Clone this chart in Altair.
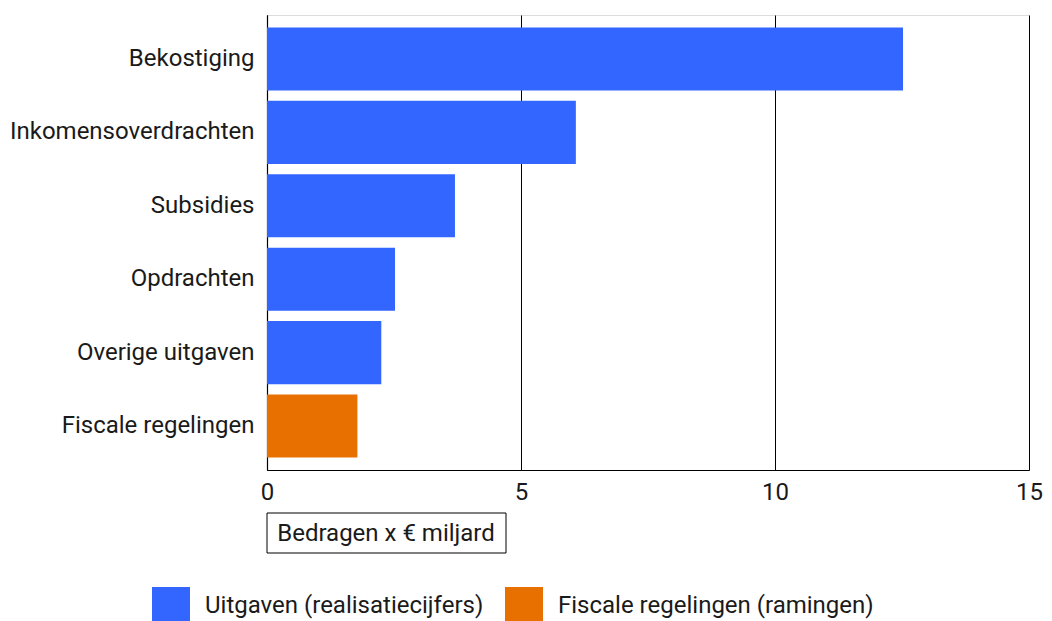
import altair as alt
import pandas as pd

categories = ["Bekostiging", "Inkomensoverdrachten", "Subsidies", "Opdrachten",
              "Overige uitgaven", "Fiscale regelingen"]
values = [12.52, 6.08, 3.70, 2.52, 2.25, 1.78]
series = ["Uitgaven (realisatiecijfers)"] * 5 + ["Fiscale regelingen (ramingen)"]
series_names = ["Uitgaven (realisatiecijfers)", "Fiscale regelingen (ramingen)"]
series_colors = ["#3366ff", "#e87000"]
x_ticks = [0, 5, 10, 15]
axis_title = "Bedragen x € miljard"

df = pd.DataFrame({"categorie": categories, "waarde": values, "reeks": series})
FONT = "Roboto"

bars = alt.Chart(df).mark_bar().encode(
    y=alt.Y("categorie:N", sort=categories,
            scale=alt.Scale(paddingInner=0.14, paddingOuter=0.17),
            axis=alt.Axis(title=None, ticks=False, labelFontSize=24, labelFont=FONT,
                          labelColor="#1a1a1a", labelPadding=13, domainColor="#000000",
                          domainWidth=1.2, labelLimit=400)),
    x=alt.X("waarde:Q", scale=alt.Scale(domain=[0, 15], nice=False),
            axis=alt.Axis(title=None, values=x_ticks, ticks=False, labelFontSize=24,
                          labelFont=FONT, labelColor="#1a1a1a", labelPadding=10,
                          grid=True, gridColor="#000000", gridWidth=1, gridOpacity=1,
                          domainColor="#000000", domainWidth=1.2, labelFlush=False)),
    color=alt.Color("reeks:N",
                    scale=alt.Scale(domain=series_names, range=series_colors),
                    legend=alt.Legend(title=None, orient="none", direction="horizontal",
                                      legendX=-115, legendY=572,
                                      symbolType="square", symbolSize=1444,
                                      symbolStrokeWidth=0, symbolOpacity=1,
                                      labelFontSize=24, labelFont=FONT,
                                      labelColor="#1a1a1a", labelOffset=15,
                                      columnPadding=21, labelLimit=400)),
)

box_df = pd.DataFrame({"t": [axis_title]})
box = alt.Chart(box_df).mark_rect(fill="white", stroke="#000000", strokeWidth=1).encode(
    x=alt.value(0), x2=alt.value(239), y=alt.value(498), y2=alt.value(538)
)
box_text = alt.Chart(box_df).mark_text(fontSize=24, font=FONT, color="#1a1a1a",
                                       align="center", baseline="middle").encode(
    x=alt.value(119), y=alt.value(519), text="t:N"
)

chart = alt.layer(bars, box, box_text).properties(
    width=762, height=455,
    padding={"left": 1, "top": 7, "right": 0, "bottom": 0},
).configure_view(stroke=None).configure(font=FONT)

chart.save("out.html", embed_options={"renderer": "svg", "actions": False})
